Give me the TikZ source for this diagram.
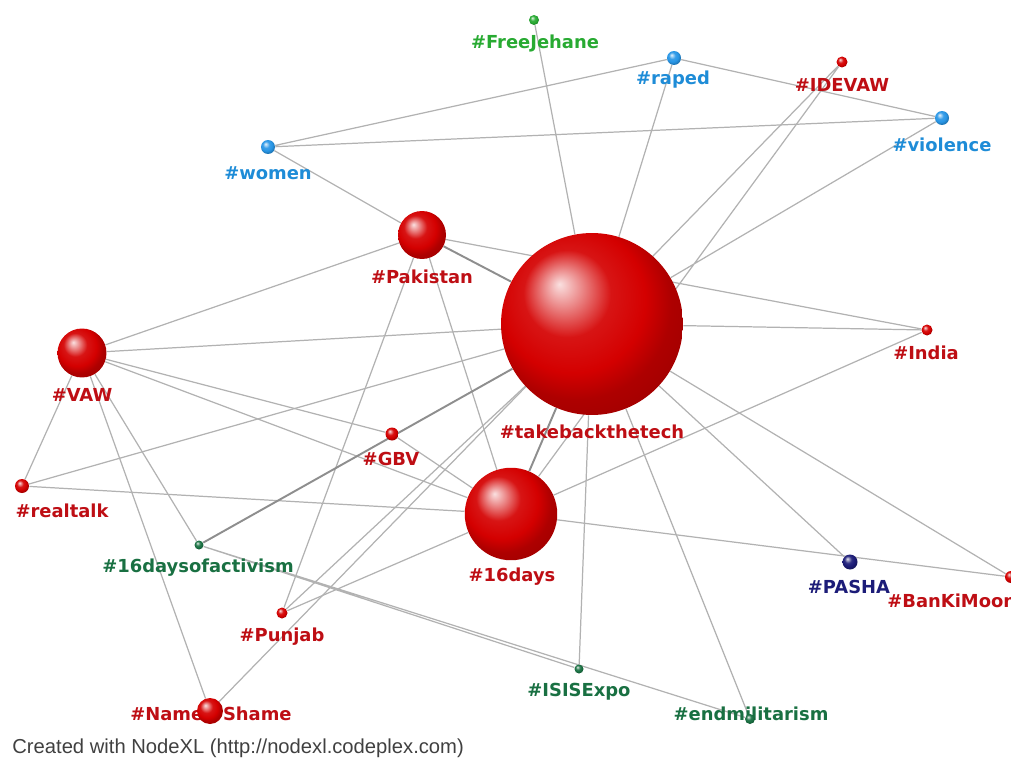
\documentclass[tikz,border=0pt]{standalone}
\usepackage{fontspec}
\usetikzlibrary{positioning}
\newfontfamily\tagfont{DejaVu Sans}
\newfontfamily\notefont{Liberation Sans}

\definecolor{ballred}{RGB}{212,0,0}
\definecolor{tagred}{RGB}{190,14,20}
\definecolor{ballblue}{RGB}{40,150,230}
\definecolor{tagblue}{RGB}{30,140,215}
\definecolor{freshgreen}{RGB}{40,170,50}
\definecolor{deepgreen}{RGB}{25,112,66}
\definecolor{navyblue}{RGB}{28,28,120}
\definecolor{linkgray}{RGB}{178,178,178}

% glossier spheres: keep the rim red instead of black
\makeatletter
\pgfdeclareradialshading[tikz@ball]{ball}{\pgfqpoint{-9bp}{11bp}}{%
  color(0bp)=(tikz@ball!12!white);
  color(5bp)=(tikz@ball!45!white);
  color(12bp)=(tikz@ball!92!white);
  color(20bp)=(tikz@ball);
  color(26bp)=(tikz@ball!82!black);
  color(50bp)=(tikz@ball!60!black)}
\makeatother

\pgfdeclarelayer{edgelayer}
\pgfdeclarelayer{taglayer}
\pgfsetlayers{edgelayer,taglayer,main}

\begin{document}
\begin{tikzpicture}[
  x=0.02cm, y=-0.02cm,
  hub/.style={circle,inner sep=0pt,minimum size=#1},
  redhub/.style={hub=#1,ball color=ballred},
  bluehub/.style={hub=#1,ball color=ballblue},
  greenhub/.style={hub=#1,ball color=freshgreen},
  darkhub/.style={hub=#1,ball color=deepgreen},
  navyhub/.style={hub=#1,ball color=navyblue},
  tag/.style={font=\tagfont\bfseries\fontsize{10.2}{12}\selectfont,inner sep=0pt},
  link/.style={draw=linkgray,line width=0.7pt},
  heavy/.style={link,draw=linkgray!80!black,line width=1.1pt}
]
  \useasboundingbox (0,0) rectangle (1011,767);

  % hashtag spheres
  \node [redhub=3.64cm] (T) at (592,324) {};
  \node [redhub=1.85cm] (D) at (511,514) {};
  \node [redhub=0.96cm] (P) at (422,235) {};
  \node [redhub=0.98cm] (V) at (82,353) {};
  \node [redhub=0.52cm] (N) at (210,711) {};
  \node [bluehub=0.28cm] (W) at (268,147) {};
  \node [bluehub=0.28cm] (R) at (674,58) {};
  \node [bluehub=0.28cm] (Vi) at (942,118) {};
  \node [redhub=0.22cm] (I) at (842,62) {};
  \node [redhub=0.22cm] (In) at (927,330) {};
  \node [greenhub=0.2cm] (F) at (534,20) {};
  \node [redhub=0.26cm] (G) at (392,434) {};
  \node [redhub=0.28cm] (Rt) at (22,486) {};
  \node [darkhub=0.18cm] (A) at (199,545) {};
  \node [redhub=0.22cm] (Pu) at (282,613) {};
  \node [darkhub=0.18cm] (X) at (579,669) {};
  \node [darkhub=0.2cm] (E) at (750,719) {};
  \node [navyhub=0.3cm] (Pa) at (850,562) {};
  \node [redhub=0.24cm] (B) at (1011,577) {};

  % co-occurrence links
  \begin{pgfonlayer}{edgelayer}
    \path [link] (W) -- (R) (W) -- (Vi) (W) -- (P) (R) -- (Vi) (R) -- (T) (F) -- (T);
    \path [link] (I) -- (N) (I) -- (D) (Vi) -- (T);
    \path [link] (P) -- (In) (P) -- (V) (P) -- (Pu) (P) -- (D);
    \path [link] (V) -- (T) (V) -- (G) (V) -- (D) (V) -- (N) (V) -- (A) (V) -- (Rt);
    \path [link] (Rt) -- (T) (Rt) -- (D);
    \path [link] (A) -- (X) (A) -- (E) (G) -- (D) (Pu) -- (T) (Pu) -- (D);
    \path [link] (T) -- (In) (T) -- (Pa) (T) -- (B) (T) -- (X) (T) -- (E);
    \path [link] (D) -- (B) (D) -- (In);
    \path [heavy] (P) -- (T) (A) -- (T) (T) -- (D);
  \end{pgfonlayer}

  % labels
  \begin{pgfonlayer}{taglayer}
    \node [tag,text=freshgreen] (lF) at (535,43) {\#FreeJehane};
    \node [tag,text=tagblue] (lR) at (673,80) {\#raped};
    \node [tag,text=tagred] (lI) at (842,85) {\#IDEVAW};
    \node [tag,text=tagblue] (lVi) at (942,145) {\#violence};
    \node [tag,text=tagblue] (lW) at (268,173) {\#women};
    \node [tag,text=tagred] (lP) at (422,277) {\#Pakistan};
    \node [tag,text=tagred] (lV) at (82,395) {\#VAW};
    \node [tag,text=tagred] (lIn) at (926,353) {\#India};
    \node [tag,text=tagred] (lT) at (592,432) {\#takebackthetech};
    \node [tag,text=tagred] (lG) at (391,459) {\#GBV};
    \node [tag,text=tagred] (lRt) at (62,511) {\#realtalk};
    \node [tag,text=deepgreen] (lA) at (198,568) {\#16daysofactivism};
    \node [tag,text=tagred] (lD) at (512,577) {\#16days};
    \node [tag,text=tagred] (lPu) at (282,637) {\#Punjab};
    \node [tag,text=tagred] (lN) at (211,714) {\#Name\hspace{1.1em}Shame};
    \node [tag,text=navyblue] (lPa) at (849,587) {\#PASHA};
    \node [tag,text=tagred,anchor=west] (lB) at (887,601) {\#BanKiMoon};
    \node [tag,text=deepgreen] (lX) at (579,692) {\#ISISExpo};
    \node [tag,text=deepgreen] (lE) at (751,714) {\#endmilitarism};
  \end{pgfonlayer}

  \node [font=\notefont\fontsize{11.5}{13}\selectfont,text=black!75,inner sep=0pt,anchor=west] (credit) at (12,748) {Created with NodeXL (http://nodexl.codeplex.com)};
\end{tikzpicture}
\end{document}
